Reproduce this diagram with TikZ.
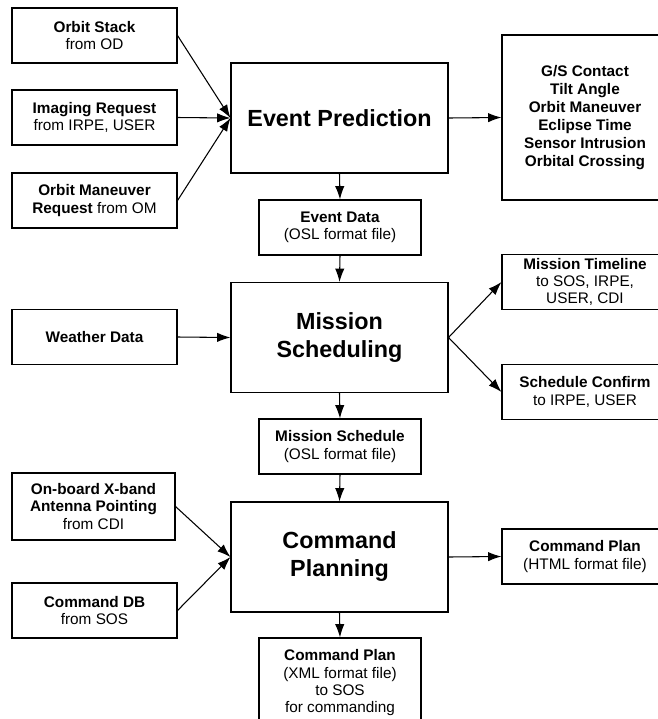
\documentclass[tikz,border=0pt]{standalone}
\usepackage{fontspec}
\setmainfont{Liberation Sans}
\usetikzlibrary{arrows.meta}
\newdimen\px \px=0.75pt
\tikzset{
	box/.style={draw, line width=0.8pt, align=center, inner sep=0pt, font=\fontsize{11.5}{13}\selectfont},
	srcbox/.style={box, minimum width=165\px, minimum height=55\px},
	outbox/.style={box, minimum width=166\px, minimum height=55\px},
	filebox/.style={box, minimum width=162\px, minimum height=55\px},
	procbox/.style={draw, line width=0.8pt, align=center, minimum width=217\px, minimum height=110\px, font=\fontsize{17.5}{21}\selectfont\bfseries},
	flow/.style={-{Latex[length=10pt,width=7pt]}, line width=0.8pt}
}

\begin{document}
\begin{tikzpicture}[x=0.75pt, y=-0.75pt]
			%%%%% START %%%%%
			\useasboundingbox (0, 0) rectangle (658, 719);
			\clip (0, 0) rectangle (658, 719);
			
			% inputs
			\node[srcbox] (os) at (94.5, 35.5) {\textbf{Orbit Stack}\\from OD};
			\node[srcbox] (ir) at (94.5, 117.5) {\textbf{Imaging Request}\\from IRPE, USER};
			\node[srcbox] (om) at (94.5, 200.5) {\textbf{Orbit Maneuver}\\\textbf{Request} from OM};
			\node[srcbox] (ws) at (94.5, 337) {\textbf{Weather Data}};
			\node[srcbox, minimum width=163\px, minimum height=67\px] (ob) at (93.5, 506.5) {\textbf{On-board X-band}\\\textbf{Antenna Pointing}\\from CDI};
			\node[srcbox] (cd) at (94.5, 610.5) {\textbf{Command DB}\\from SOS};
			
			% processes
			\node[procbox] (ep) at (339.5, 118) {Event Prediction};
			\node[procbox] (ms) at (339.5, 337.5) {Mission\\Scheduling};
			\node[procbox] (cp) at (339.5, 557) {Command\\Planning};
			
			% files
			\node[filebox] (ed) at (340, 227.5) {\textbf{Event Data}\\(OSL format file)};
			\node[filebox] (msch) at (340, 446.5) {\textbf{Mission Schedule}\\(OSL format file)};
			\node[filebox, minimum height=90\px] (cpx) at (340, 683) {\textbf{Command Plan}\\(XML format file)\\to SOS\\for commanding};
			
			% outputs
			\node[outbox, minimum height=165\px, font=\fontsize{11.5}{13.5}\selectfont\bfseries] (gs) at (585, 117.5) {G/S Contact\\Tilt Angle\\Orbit Maneuver\\Eclipse Time\\Sensor Intrusion\\Orbital Crossing};
			\node[outbox] (mt) at (585, 282) {\textbf{Mission Timeline}\\to SOS, IRPE,\\USER, CDI};
			\node[outbox] (sc) at (585, 392) {\textbf{Schedule Confirm}\\to IRPE, USER};
			\node[outbox] (cph) at (585, 556.5) {\textbf{Command Plan}\\(HTML format file)};
			
			% flows
			\draw[flow] (os.east) -- (ep.west);
			\draw[flow] (ir.east) -- (ep.west);
			\draw[flow] (om.east) -- (ep.west);
			\draw[flow] (ep.east) -- (gs.west);
			\draw[flow] (ep.south) -- (ed.north);
			\draw[flow] (ed.south) -- (ms.north);
			
			\draw[flow] (ws.east) -- (ms.west);
			\draw[flow] (ms.east) -- (mt.west);
			\draw[flow] (ms.east) -- (sc.west);
			\draw[flow] (ms.south) -- (msch.north);
			\draw[flow] (msch.south) -- (cp.north);
			
			\draw[flow] (ob.east) -- (cp.west);
			\draw[flow] (cd.east) -- (cp.west);
			\draw[flow] (cp.east) -- (cph.west);
			\draw[flow] (cp.south) -- (cpx.north);
			
			%%%%% END %%%%%
\end{tikzpicture}
\end{document}
